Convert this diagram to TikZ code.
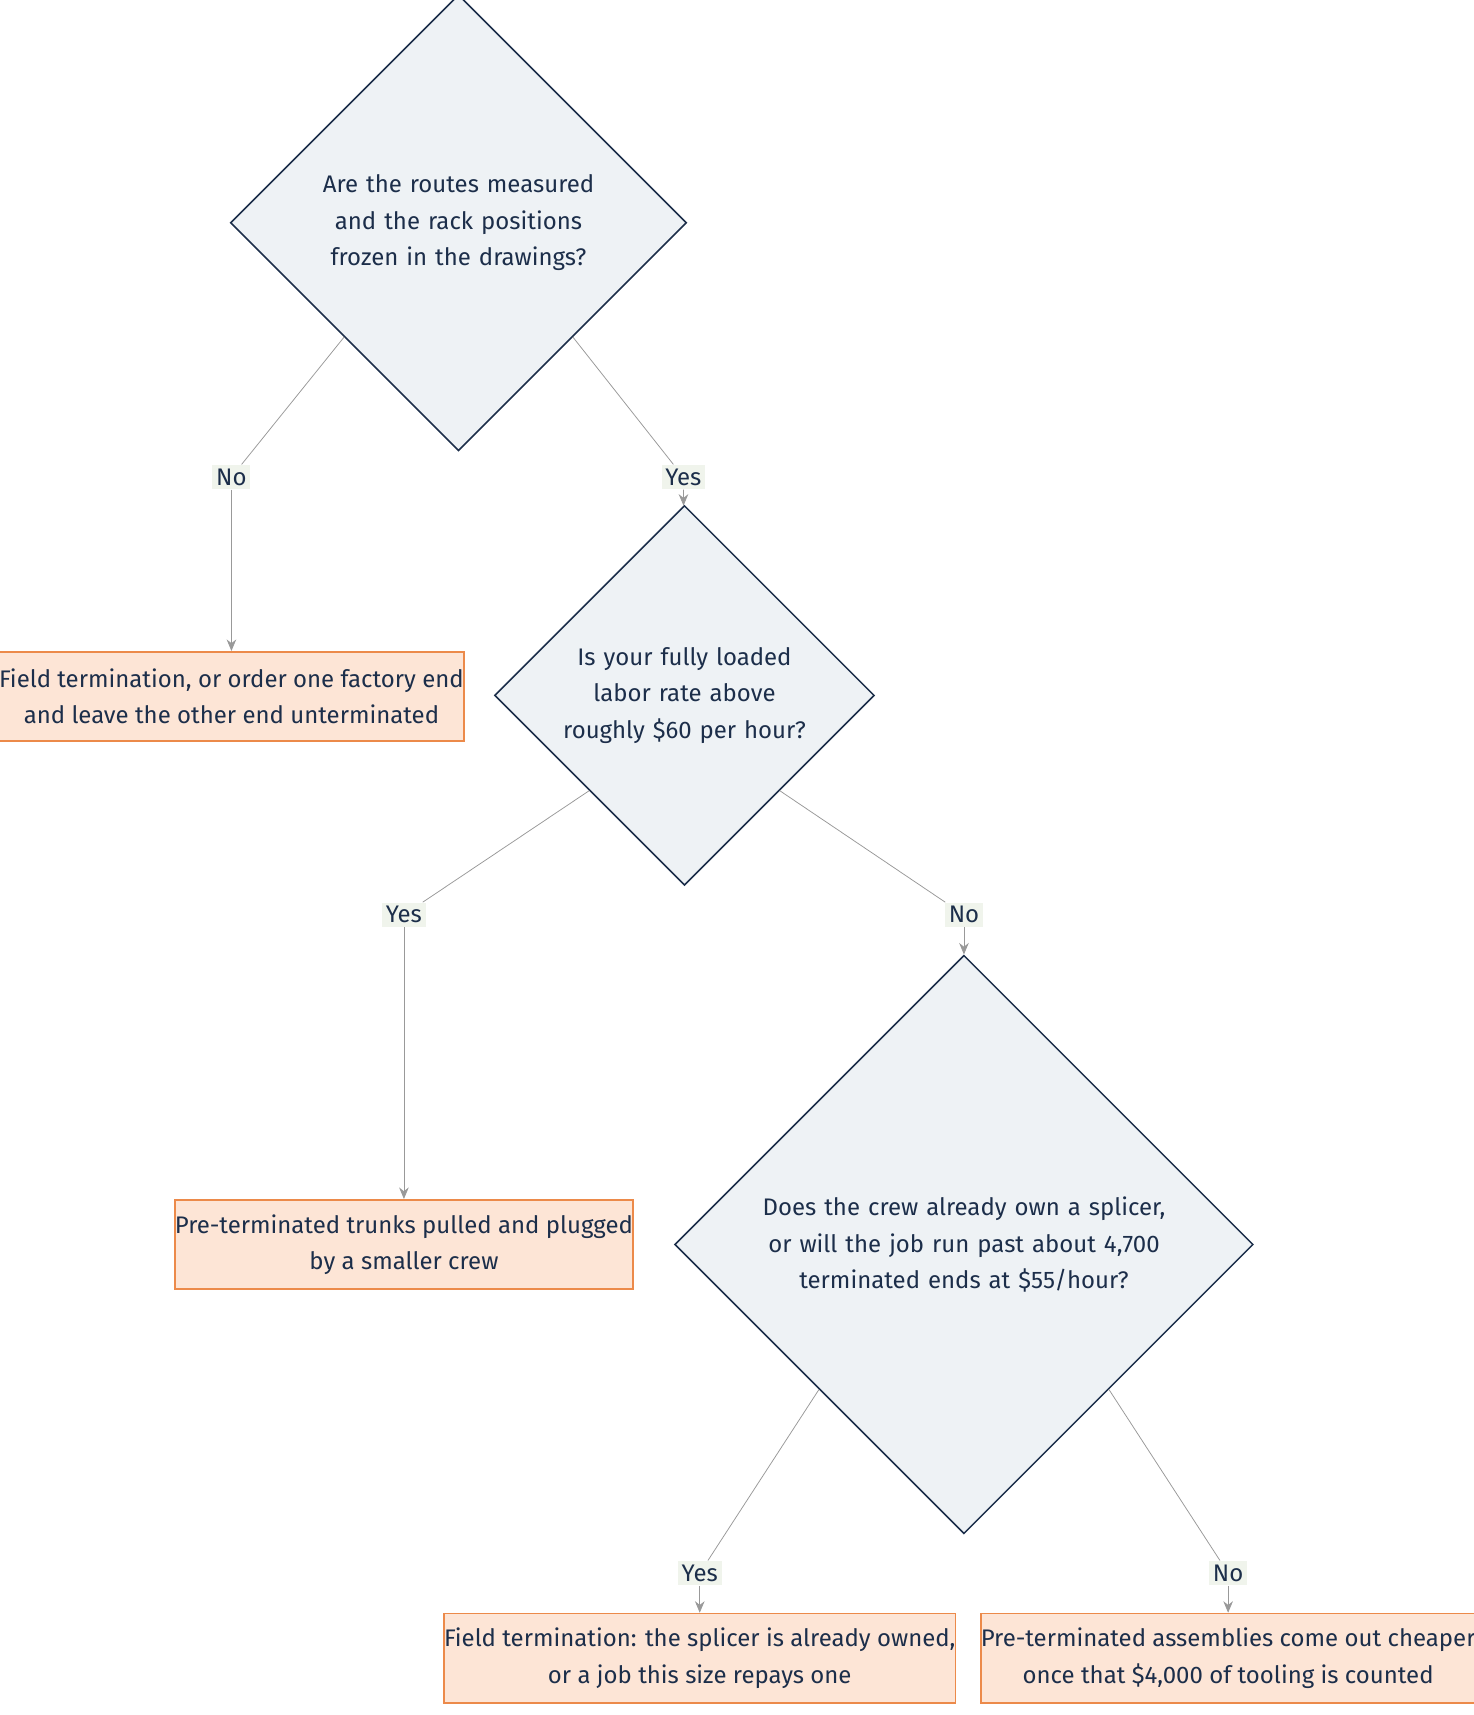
\documentclass[tikz,border=0pt]{standalone}
\usepackage{fontspec}
\setmainfont{Fira Sans}
\usetikzlibrary{shapes.geometric, arrows.meta}
\definecolor{ink}{HTML}{1C2E4A}
\definecolor{qfill}{HTML}{EEF2F5}
\definecolor{afill}{HTML}{FDE5D6}
\definecolor{aline}{HTML}{EC8A4A}
\definecolor{lfill}{HTML}{F0F4EC}
\tikzset{
x=0.02cm, y=-0.02cm,
font=\fontsize{12.5}{19}\selectfont, % base text
question/.style={diamond, draw=ink, thick, fill=qfill, text=ink, inner sep=0pt, align=center},
answer/.style={draw=aline, thick, fill=afill, text=ink, align=center, minimum height=1.64cm, inner sep=0pt},
label/.style={fill=lfill, text=ink, inner sep=2pt},
edge/.style={draw=gray!80, thin},
arrow/.style={edge, -{Stealth[length=6pt,width=5pt]}},
}
\begin{document}
\begin{tikzpicture}
\useasboundingbox (0,0) rectangle (1350,1571);
% questions
\node[question, minimum width=7.88cm, minimum height=7.88cm, text width=6.6cm] (routes) at (420,204)
  {Are the routes measured and the rack positions frozen in the drawings?};
\node[question, minimum width=6.56cm, minimum height=6.56cm, text width=5.2cm] (labor) at (627,637)
  {Is your fully loaded labor rate above roughly \$60 per hour?};
\node[question, minimum width=10.6cm, minimum height=10.6cm, text width=8.8cm] (splicer) at (883,1140)
  {Does the crew already own a splicer, or will the job run past about 4,700 terminated ends at \$55/hour?};
% answers
\node[answer, minimum width=8.18cm] (fieldA) at (212,638)
  {Field termination, or order one factory end\\and leave the other end unterminated};
\node[answer, minimum width=8.1cm] (preA) at (370,1140)
  {Pre-terminated trunks pulled and plugged\\by a smaller crew};
\node[answer, minimum width=8.88cm] (fieldB) at (641,1519)
  {Field termination: the splicer is already owned,\\or a job this size repays one};
\node[answer, minimum width=8.66cm] (preB) at (1125,1519)
  {Pre-terminated assemblies come out cheaper\\once that \$4,000 of tooling is counted};
% edge labels
\node[label] (routesNo) at (212,437) {No};
\node[label] (routesYes) at (626,437) {Yes};
\node[label] (laborYes) at (370,838) {Yes};
\node[label] (laborNo) at (883,838) {No};
\node[label] (splicerYes) at (641,1441) {Yes};
\node[label] (splicerNo) at (1125,1441) {No};
% connectors
\draw[edge] (routes.south west) -- (routesNo);
\draw[arrow] (routesNo) -- (fieldA);
\draw[edge] (routes.south east) -- (routesYes);
\draw[arrow] (routesYes) -- (labor);
\draw[edge] (labor.south west) -- (laborYes);
\draw[arrow] (laborYes) -- (preA);
\draw[edge] (labor.south east) -- (laborNo);
\draw[arrow] (laborNo) -- (splicer);
\draw[edge] (splicer.south west) -- (splicerYes);
\draw[arrow] (splicerYes) -- (fieldB);
\draw[edge] (splicer.south east) -- (splicerNo);
\draw[arrow] (splicerNo) -- (preB);
\end{tikzpicture}
\end{document}
